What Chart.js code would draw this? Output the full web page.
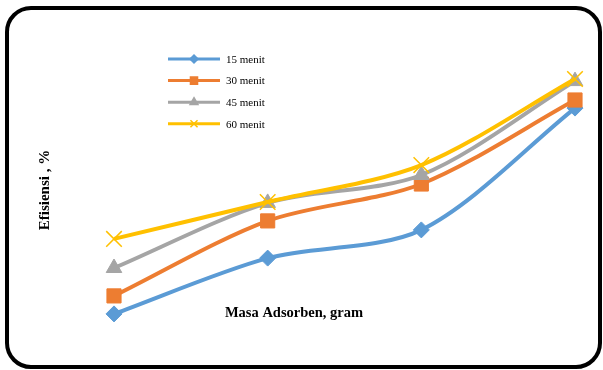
<!DOCTYPE html>
<html>
<head>
<meta charset="utf-8">
<script src="https://cdn.jsdelivr.net/npm/chart.js@4.4.1/dist/chart.umd.min.js"></script>
<style>
  html, body { margin: 0; padding: 0; background: #fff; }
  #wrap { position: relative; width: 603px; height: 370px; }
  #frame {
    position: absolute; left: 5px; top: 6px; width: 589px; height: 355px;
    border: 4px solid #000; border-radius: 26px; pointer-events: none;
  }
  canvas { position: absolute; left: 0; top: 0; }
</style>
</head>
<body>
<div id="wrap">
  <canvas id="chart" width="603" height="370"></canvas>
  <div id="frame"></div>
</div>
<script>
const masa = [1, 2, 3, 4];
const seriesNames = ["15 menit", "30 menit", "45 menit", "60 menit"];
const eff15 = [8.7, 27.3, 36.7, 77.3];
const eff30 = [14.7, 39.7, 52.0, 80.0];
const eff45 = [24.0, 45.7, 55.0, 86.3];
const eff60 = [33.7, 46.0, 58.3, 87.0];

const colors = ["#5B9BD5", "#ED7D31", "#A5A5A5", "#FFC000"];
const markers = ["rectRot", "rect", "triangle", "crossRot"];
const markerSize = [8, 10, 9, 11];
const legendMarker = [4, 5, 4.5, 5];
const values = [eff15, eff30, eff45, eff60];

const serif = '"Liberation Serif", "Times New Roman", serif';

// legend: short line with the marker in the middle, text on the right
const lineLegend = {
  id: "lineLegend",
  afterDraw(chart) {
    const ctx = chart.ctx;
    ctx.save();
    chart.data.datasets.forEach((ds, i) => {
      const y = 59 + i * 21.6;
      ctx.strokeStyle = ds.borderColor;
      ctx.lineWidth = 3;
      ctx.beginPath();
      ctx.moveTo(168, y);
      ctx.lineTo(220, y);
      ctx.stroke();
      ctx.fillStyle = ds.borderColor;
      ctx.lineWidth = 1.5;
      Chart.helpers.drawPoint(ctx, {
        pointStyle: ds.pointStyle,
        radius: legendMarker[i],
        borderWidth: 1.5
      }, 194, y);
      ctx.fillStyle = "#000";
      ctx.font = "11px " + serif;
      ctx.textBaseline = "middle";
      ctx.fillText(ds.label, 226, y + 1);
    });
    ctx.restore();
  }
};

// axis titles sit inside the frame, drawn by hand since the axes are hidden
const titles = {
  id: "titles",
  afterDraw(chart) {
    const ctx = chart.ctx;
    ctx.save();
    ctx.fillStyle = "#000";
    ctx.textAlign = "center";
    ctx.textBaseline = "middle";
    ctx.font = "bold 14.5px " + serif;
    ctx.fillText("Masa Adsorben, gram", 294, 313);
    ctx.font = "bold 15px " + serif;
    ctx.translate(45, 190);
    ctx.rotate(-Math.PI / 2);
    ctx.fillText("Efisiensi , %", 0, 0);
    ctx.restore();
  }
};

new Chart(document.getElementById("chart").getContext("2d"), {
  type: "line",
  data: {
    datasets: values.map((v, i) => ({
      label: seriesNames[i],
      data: masa.map((m, j) => ({ x: m, y: v[j] })),
      borderColor: colors[i],
      backgroundColor: colors[i],
      pointBorderColor: colors[i],
      pointBackgroundColor: colors[i],
      pointStyle: markers[i],
      pointRadius: markerSize[i],
      pointBorderWidth: i === 3 ? 1.5 : 1,
      borderWidth: 4,
      tension: 0.3,
      clip: false,
      order: 4 - i
    }))
  },
  options: {
    responsive: false,
    animation: false,
    layout: { padding: { left: 114, right: 28, top: 40, bottom: 30 } },
    scales: {
      x: { type: "linear", min: 1, max: 4, display: false },
      y: { min: 0, max: 100, display: false }
    },
    plugins: {
      legend: { display: false },
      tooltip: { enabled: false }
    }
  },
  plugins: [lineLegend, titles]
});
</script>
</body>
</html>
